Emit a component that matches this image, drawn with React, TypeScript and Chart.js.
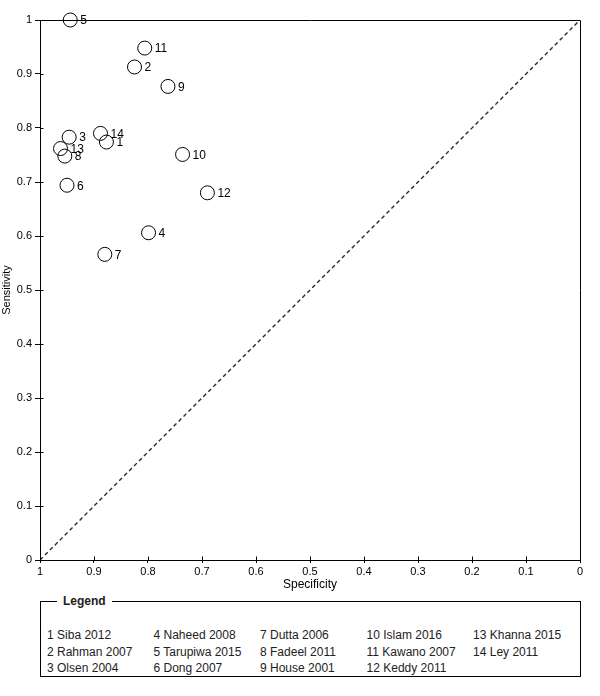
import React, { useEffect, useRef } from "react";
import { Chart, registerables } from "chart.js";

Chart.register(...registerables);

// ---- Data ----
const studyNumbers = [1, 2, 3, 4, 5, 6, 7, 8, 9, 10, 11, 12, 13, 14];
const studyNames = [
  "Siba 2012",
  "Rahman 2007",
  "Olsen 2004",
  "Naheed 2008",
  "Tarupiwa 2015",
  "Dong 2007",
  "Dutta 2006",
  "Fadeel 2011",
  "House 2001",
  "Islam 2016",
  "Kawano 2007",
  "Keddy 2011",
  "Khanna 2015",
  "Ley 2011",
];
const specificity = [0.877, 0.825, 0.946, 0.799, 0.944, 0.95, 0.88, 0.954, 0.763, 0.736, 0.806, 0.69, 0.962, 0.888];
const sensitivity = [0.774, 0.913, 0.783, 0.606, 1.0, 0.694, 0.566, 0.748, 0.877, 0.751, 0.948, 0.68, 0.762, 0.79];
const axisTicks = [0, 0.1, 0.2, 0.3, 0.4, 0.5, 0.6, 0.7, 0.8, 0.9, 1];
const diagonalX = [1, 0];
const diagonalY = [0, 1];

const FONT = "'Liberation Sans', Arial, sans-serif";

const overlayPlugin = {
  id: "overlay",
  afterDraw(chart: any) {
    const { ctx, chartArea: a, scales } = chart;
    ctx.save();
    ctx.strokeStyle = "#000";
    ctx.lineWidth = 1;
    const L = Math.round(a.left) + 0.5;
    const T = Math.round(a.top) + 0.5;
    const R = Math.round(a.right) + 0.5;
    const B = Math.round(a.bottom) + 0.5;
    ctx.beginPath();
    ctx.moveTo(L, T);
    ctx.lineTo(R, T);
    ctx.lineTo(R, B);
    ctx.lineTo(L, B);
    ctx.closePath();
    ctx.stroke();
    // inward tick marks
    ctx.beginPath();
    axisTicks.forEach((v) => {
      const y = Math.round(scales.y.getPixelForValue(v)) + 0.5;
      ctx.moveTo(L, y);
      ctx.lineTo(L + 3, y);
      const x = Math.round(scales.x.getPixelForValue(v)) + 0.5;
      ctx.moveTo(x, B);
      ctx.lineTo(x, B - 4);
    });
    ctx.stroke();
    // point labels
    const meta = chart.getDatasetMeta(1);
    ctx.font = "12px " + FONT;
    ctx.fillStyle = "#000";
    ctx.textAlign = "left";
    ctx.textBaseline = "middle";
    meta.data.forEach((el: any, i: number) => {
      ctx.fillText(String(studyNumbers[i]), el.x + 10, el.y + 1);
    });
    ctx.restore();
  },
};

function ChartCanvas() {
  const ref = useRef<HTMLCanvasElement | null>(null);
  useEffect(() => {
    if (!ref.current) return;
    const fmt = (v: any) => String(Math.round(Number(v) * 10) / 10);
    const chart = new Chart(ref.current, {
      type: "scatter",
      data: {
        datasets: [
          {
            type: "line",
            data: diagonalX.map((x, i) => ({ x, y: diagonalY[i] })),
            borderColor: "#1e2d3c",
            borderWidth: 1.4,
            borderDash: [4, 3],
            pointRadius: 0,
            fill: false,
          } as any,
          {
            data: specificity.map((x, i) => ({ x, y: sensitivity[i] })),
            pointRadius: 7,
            pointHoverRadius: 7,
            borderColor: "#000",
            borderWidth: 1,
            backgroundColor: "rgba(0,0,0,0)",
            clip: false,
          } as any,
        ],
      },
      options: {
        animation: false,
        responsive: false,
        devicePixelRatio: 1,
        events: [],
        layout: { padding: { top: 20, right: 20, left: 0, bottom: 0 } },
        plugins: { legend: { display: false }, tooltip: { enabled: false } },
        scales: {
          x: {
            type: "linear",
            min: 0,
            max: 1,
            reverse: true,
            afterBuildTicks: (s: any) => {
              s.ticks = axisTicks.map((v) => ({ value: v }));
            },
            afterFit: (s: any) => {
              s.height = 35;
            },
            grid: { display: true, drawOnChartArea: false, drawTicks: true, tickLength: 3, color: "#000" },
            border: { display: false },
            ticks: { callback: fmt, color: "#000", font: { family: FONT, size: 11 }, padding: 2, maxRotation: 0, autoSkip: false },
            title: { display: true, text: "Specificity", color: "#000", font: { family: FONT, size: 12 }, padding: { top: 0, bottom: 3 } },
          },
          y: {
            type: "linear",
            min: 0,
            max: 1,
            afterBuildTicks: (s: any) => {
              s.ticks = axisTicks.map((v) => ({ value: v }));
            },
            afterFit: (s: any) => {
              s.width = 40;
            },
            grid: { display: true, drawOnChartArea: false, drawTicks: true, tickLength: 5, color: "#000" },
            border: { display: false },
            ticks: { callback: fmt, color: "#000", font: { family: FONT, size: 11 }, padding: 3, autoSkip: false },
            title: { display: true, text: "Sensitivity", color: "#000", font: { family: FONT, size: 11 }, padding: 0 },
          },
        },
      },
      plugins: [overlayPlugin],
    } as any);
    return () => chart.destroy();
  }, []);
  return <canvas ref={ref} width={600} height={595} style={{ display: "block", width: 600, height: 595 }} />;
}

export default function App() {
  const rows = 3;
  return (
    <div style={{ position: "absolute", left: 0, top: 0, width: 600, height: 696, background: "#fff", fontFamily: FONT }}>
      <ChartCanvas />
      <div
        style={{
          position: "absolute",
          left: 40,
          top: 601,
          width: 541,
          height: 76,
          border: "1px solid #000",
          boxSizing: "border-box",
        }}
      >
        <div
          style={{
            position: "absolute",
            left: 16,
            top: -9,
            padding: "0 6px",
            background: "#fff",
            fontWeight: "bold",
            fontSize: 12,
            lineHeight: "16px",
            color: "#222",
          }}
        >
          Legend
        </div>
        <div
          style={{
            position: "absolute",
            left: 6,
            top: 25,
            display: "grid",
            gridTemplateColumns: "repeat(5, 106.5px)",
            gridTemplateRows: `repeat(${rows}, 16.5px)`,
            gridAutoFlow: "column",
            fontSize: 12,
            lineHeight: "16.5px",
            color: "#222",
            whiteSpace: "nowrap",
          }}
        >
          {studyNames.map((name, i) => (
            <div key={i}>
              {studyNumbers[i]} {name}
            </div>
          ))}
        </div>
      </div>
    </div>
  );
}
